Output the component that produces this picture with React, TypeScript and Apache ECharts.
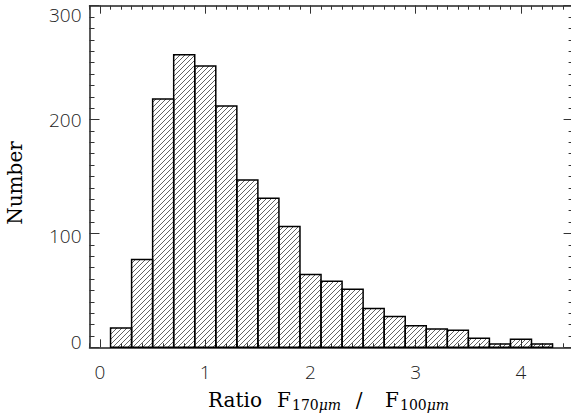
import React, { useEffect, useRef } from "react";
import * as echarts from "echarts";

// Histogram bins (ratio F170/F100), bin width 0.2
const binLo = [0.1, 0.3, 0.5, 0.7, 0.9, 1.1, 1.3, 1.5, 1.7, 1.9, 2.1, 2.3, 2.5, 2.7, 2.9, 3.1, 3.3, 3.5, 3.7, 3.9, 4.1];
const binHi = [0.3, 0.5, 0.7, 0.9, 1.1, 1.3, 1.5, 1.7, 1.9, 2.1, 2.3, 2.5, 2.7, 2.9, 3.1, 3.3, 3.5, 3.7, 3.9, 4.1, 4.3];
const counts = [17, 77, 218, 257, 247, 212, 147, 131, 106, 64, 58, 51, 34, 27, 19, 16, 15, 8, 3, 7, 3];

const xMajorTicks = [0, 1, 2, 3, 4];
const yTickLabels = [0, 100, 200, 300];

const hatchSvg =
  "<svg xmlns='http://www.w3.org/2000/svg' width='5' height='5'>" +
  "<path d='M-1,1 L1,-1 M0,5 L5,0 M4,6 L6,4' stroke='#3a3a3a' stroke-width='0.8' fill='none'/></svg>";
const hatchUrl = "data:image/svg+xml;charset=utf-8," + encodeURIComponent(hatchSvg);

export default function App() {
  const ref = useRef<HTMLDivElement>(null);

  useEffect(() => {
    if (!ref.current) return;
    const chart = echarts.init(ref.current, null, { renderer: "svg" });

    const lineStyle = { color: "#222", width: 1.5 };
    const tickStyle = { color: "#333", width: 1 };
    const labelFont = {
      fontFamily: "'Open Sans', 'DejaVu Sans', sans-serif",
      fontWeight: 300 as any,
      fontSize: 19,
      color: "#222",
    };
    const serif = "'DejaVu Serif', serif";

    const xCommon = {
      type: "value",
      min: -0.1,
      max: 4.5,
      splitLine: { show: false },
      axisLine: { show: true, onZero: false, lineStyle },
    };

    const pattern = {
      image: hatchUrl,
      repeat: "repeat",
      imageWidth: 5,
      imageHeight: 5,
    };

    const mainText = (text: string, x: number, align = "left") => ({
      type: "text",
      x,
      y: 400,
      style: { text, font: `20px ${serif}`, align, verticalAlign: "middle", fill: "#000" },
    });
    const subText = (num: string, x: number) => ({
      type: "text",
      x,
      y: 405,
      style: {
        text: `{n|${num}}{i|μm}`,
        align: "left",
        verticalAlign: "middle",
        rich: {
          n: { font: `14px ${serif}`, fill: "#000" },
          i: { font: `italic 14px ${serif}`, fill: "#000" },
        },
      },
    });

    const option: any = {
      animation: false,
      backgroundColor: "#fff",
      grid: { left: 89.5, right: 1.4, top: 5.7, bottom: 71.7, containLabel: false },
      xAxis: [
        {
          ...xCommon,
          position: "bottom",
          interval: 0.1,
          axisTick: { show: true, inside: true, length: 4, lineStyle: tickStyle },
          axisLabel: { show: true, customValues: xMajorTicks, margin: 15, ...labelFont },
        },
        {
          ...xCommon,
          position: "bottom",
          axisLine: { show: false, onZero: false },
          axisTick: { show: true, inside: true, length: 8, customValues: xMajorTicks, lineStyle: tickStyle },
          axisLabel: { show: false },
        },
        {
          ...xCommon,
          position: "top",
          interval: 0.1,
          axisTick: { show: true, inside: true, length: 4, lineStyle: tickStyle },
          axisLabel: { show: false },
        },
        {
          ...xCommon,
          position: "top",
          axisLine: { show: false, onZero: false },
          axisTick: { show: true, inside: true, length: 8, customValues: xMajorTicks, lineStyle: tickStyle },
          axisLabel: { show: false },
        },
      ],
      yAxis: [
        {
          type: "value",
          position: "left",
          min: 0,
          max: 300,
          interval: 100,
          splitLine: { show: false },
          axisLine: { show: true, onZero: false, lineStyle },
          axisTick: { show: true, inside: true, length: 10, lineStyle: tickStyle },
          minorTick: { show: true, splitNumber: 10, length: 5, lineStyle: tickStyle },
          axisLabel: {
            show: true,
            margin: 8,
            ...labelFont,
            customValues: yTickLabels,
            formatter: (v: number) => {
              if (v === 300) return "{d9|300}";
              if (v === 100) return "{d3|100}";
              if (v === 0) return "{u5|0}";
              return String(v);
            },
            rich: {
              d9: { ...labelFont, padding: [18, 0, 0, 0] },
              d3: { ...labelFont, padding: [6, 0, 0, 0] },
              u5: { ...labelFont, padding: [0, 0, 10, 0] },
            },
          },
        },
        {
          type: "value",
          position: "right",
          min: 0,
          max: 300,
          interval: 100,
          splitLine: { show: false },
          axisLine: { show: true, onZero: false, lineStyle },
          axisTick: { show: true, inside: true, length: 10, lineStyle: tickStyle },
          minorTick: { show: true, splitNumber: 10, length: 5, lineStyle: tickStyle },
          axisLabel: { show: false },
        },
      ],
      series: [
        {
          type: "custom",
          xAxisIndex: 0,
          yAxisIndex: 0,
          data: binLo.map((lo, i) => [lo, binHi[i], counts[i]]),
          encode: { x: [0, 1], y: 2 },
          renderItem: (params: any, api: any) => {
            const lo = api.value(0);
            const hi = api.value(1);
            const v = api.value(2);
            const p0 = api.coord([lo, v]);
            const p1 = api.coord([hi, 0]);
            return {
              type: "rect",
              shape: { x: p0[0], y: p0[1], width: p1[0] - p0[0], height: p1[1] - p0[1] },
              style: { fill: pattern, stroke: "#000", lineWidth: 1.5 },
            };
          },
        },
      ],
      graphic: [
        {
          type: "text",
          x: 15,
          y: 183,
          rotation: Math.PI / 2,
          style: {
            text: "Number",
            font: `20px ${serif}`,
            align: "center",
            verticalAlign: "middle",
            fill: "#000",
          },
        },
        mainText("Ratio", 208),
        mainText("F", 277),
        subText("170", 292),
        mainText("/", 359, "center"),
        mainText("F", 385),
        subText("100", 400),
      ],
    };

    chart.setOption(option);
    return () => chart.dispose();
  }, []);

  return (
    <div
      ref={ref}
      style={{ position: "fixed", left: 0, top: 0, width: 575, height: 419, background: "#fff" }}
    />
  );
}
